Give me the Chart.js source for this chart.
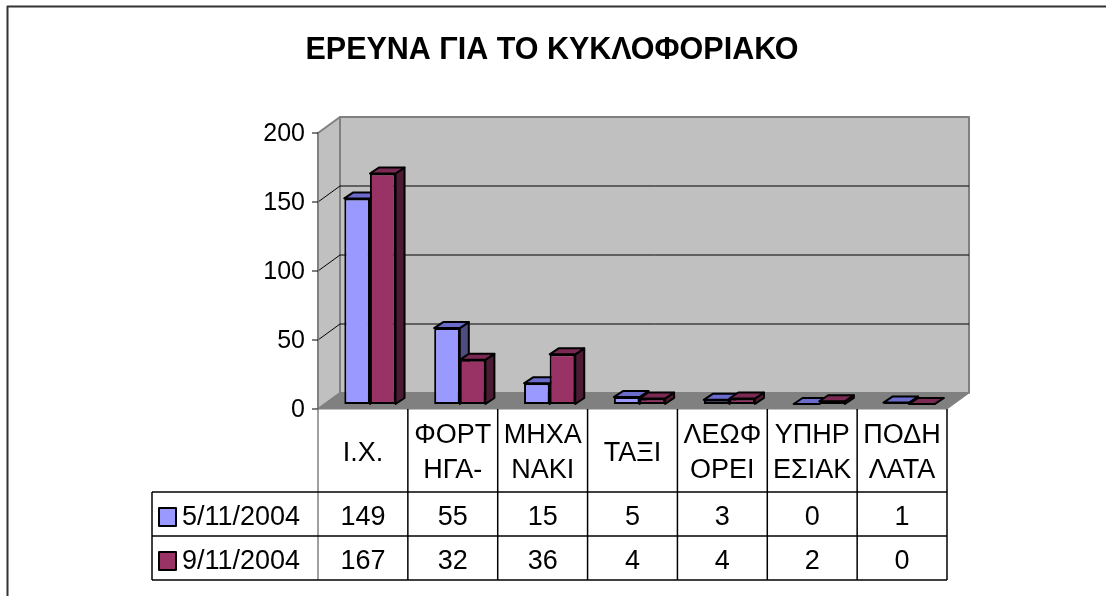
<!DOCTYPE html>
<html>
<head>
<meta charset="utf-8">
<script src="https://cdn.jsdelivr.net/npm/chart.js@4.4.1/dist/chart.umd.min.js"></script>
<style>
    html, body { margin: 0; padding: 0; background: #fff; }
    canvas { display: block; }
</style>
</head>
<body>
<canvas id="chart" width="1106" height="596"></canvas>
<script>
const title = "ΕΡΕΥΝΑ ΓΙΑ ΤΟ ΚΥΚΛΟΦΟΡΙΑΚΟ",
    categories = [["Ι.Χ."], ["ΦΟΡΤ", "ΗΓΑ-"], ["ΜΗΧΑ", "ΝΑΚΙ"], ["ΤΑΞΙ"], ["ΛΕΩΦ", "ΟΡΕΙ"], ["ΥΠΗΡ", "ΕΣΙΑΚ"], ["ΠΟΔΗ", "ΛΑΤΑ"]],
    seriesNames = ["5/11/2004", "9/11/2004"],
    day1 = [149, 55, 15, 5, 3, 0, 1],
    day2 = [167, 32, 36, 4, 4, 2, 0],
    yTicks = [0, 50, 100, 150, 200];

const FONT = '"Liberation Sans", Arial, sans-serif',
    colors = [
        { front: "#9999ff", top: "#6b6bcc", side: "#4d4d80" },
        { front: "#993366", top: "#7a2952", side: "#4d1a33" }
    ],
    FRONT = { x: -7, y: 5 },   // front plane relative to the bars
    BACK = { x: 15, y: -11 },  // back wall relative to the bars
    DEPTH = { x: 9, y: -6 };   // depth of a bar

function poly(ctx, pts, fill, stroke, lw) {
    ctx.beginPath();
    pts.forEach((p, i) => i ? ctx.lineTo(p[0], p[1]) : ctx.moveTo(p[0], p[1]));
    ctx.closePath();
    if (fill) { ctx.fillStyle = fill; ctx.fill(); }
    if (stroke) { ctx.strokeStyle = stroke; ctx.lineWidth = lw || 1; ctx.lineJoin = "round"; ctx.stroke(); }
}

function line(ctx, x1, y1, x2, y2, color, lw) {
    ctx.beginPath();
    ctx.moveTo(x1, y1);
    ctx.lineTo(x2, y2);
    ctx.strokeStyle = color;
    ctx.lineWidth = lw || 1;
    ctx.stroke();
}

const scene = {
    id: "scene",
    beforeDatasetsDraw(c) {
        const ctx = c.ctx, a = c.chartArea, ys = c.scales.y;
        const y0 = ys.getPixelForValue(0), yMax = ys.getPixelForValue(yTicks[yTicks.length - 1]);
        const fl = a.left + FRONT.x, fr = a.right + FRONT.x,
            bl = a.left + BACK.x, br = a.right + BACK.x;
        ctx.save();

        // back wall, side wall, floor
        poly(ctx, [[bl, yMax + BACK.y], [br, yMax + BACK.y], [br, y0 + BACK.y], [bl, y0 + BACK.y]], "#c0c0c0", "#808080", 2);
        poly(ctx, [[fl, y0 + FRONT.y], [fl, yMax + FRONT.y], [bl, yMax + BACK.y], [bl, y0 + BACK.y]], "#c0c0c0", "#808080", 2);
        poly(ctx, [[fl, y0 + FRONT.y], [fr, y0 + FRONT.y], [br, y0 + BACK.y], [bl, y0 + BACK.y]], "#808080", "#808080", 1);

        // gridlines
        yTicks.slice(1, -1).forEach(v => {
            const y = ys.getPixelForValue(v);
            line(ctx, bl, y + BACK.y, br, y + BACK.y, "#000", 1);
            line(ctx, fl, y + FRONT.y, bl, y + BACK.y, "#000", 1);
        });

        // value axis with ticks and labels
        line(ctx, fl, yMax + FRONT.y, fl, y0 + FRONT.y, "#808080", 2);
        ctx.font = "25px " + FONT;
        ctx.fillStyle = "#000";
        ctx.textAlign = "right";
        ctx.textBaseline = "alphabetic";
        yTicks.forEach(v => {
            const y = ys.getPixelForValue(v) + FRONT.y;
            line(ctx, fl - 6, y, fl, y, "#000", 1);
            ctx.fillText(String(v), fl - 13, y + 8);
        });

        // top and side faces of the bars
        const metas = [c.getDatasetMeta(0), c.getDatasetMeta(1)];
        categories.forEach((_, i) => metas.forEach((m, d) => {
            const bar = m.data[i],
                l = bar.x - bar.width / 2, r = bar.x + bar.width / 2,
                t = bar.y, b = bar.base;
            poly(ctx, [[r, t], [r + DEPTH.x, t + DEPTH.y], [r + DEPTH.x, b + DEPTH.y], [r, b]], colors[d].side, "#000", 2);
            poly(ctx, [[l, t], [r, t], [r + DEPTH.x, t + DEPTH.y], [l + DEPTH.x, t + DEPTH.y]], colors[d].top, "#000", 2);
        }));
        ctx.restore();
    },
    afterDraw(c) {
        const ctx = c.ctx, a = c.chartArea, xs = c.scales.x, ys = c.scales.y;
        const top = ys.getPixelForValue(0) + FRONT.y,
            headH = 83, rowH = 44,
            legendLeft = 152,
            step = (a.right - a.left) / categories.length,
            edges = categories.map((_, i) => xs.getPixelForValue(i) - step / 2 + FRONT.x);
        edges.push(a.right + FRONT.x);
        const right = edges[edges.length - 1], bottom = top + headH + rowH * 2;
        ctx.save();

        // table grid
        edges.forEach((x, i) => line(ctx, x, top, x, bottom, i ? "#000" : "#808080", 1.5));
        line(ctx, legendLeft, top + headH, legendLeft, bottom, "#000", 1.5);
        [1, 2].forEach(k => line(ctx, legendLeft, top + headH + rowH * (k - 1), right, top + headH + rowH * (k - 1), "#000", 1.5));
        line(ctx, legendLeft, bottom, right, bottom, "#000", 1.5);

        ctx.font = "27px " + FONT;
        ctx.fillStyle = "#000";
        ctx.textBaseline = "alphabetic";
        ctx.textAlign = "center";
        const headMid = top + headH / 2;
        categories.forEach((lines, i) => {
            const x = xs.getPixelForValue(i) + FRONT.x;
            lines.forEach((s, k) => ctx.fillText(s, x, headMid + 10 + (k - (lines.length - 1) / 2) * 35));
        });

        [day1, day2].forEach((vals, d) => {
            const mid = top + headH + rowH * d + rowH / 2;
            ctx.textAlign = "center";
            ctx.fillStyle = "#000";
            vals.forEach((v, i) => ctx.fillText(String(v), xs.getPixelForValue(i) + FRONT.x, mid + 11));
            poly(ctx, [[159, mid - 6], [176, mid - 6], [176, mid + 12], [159, mid + 12]], colors[d].front, "#000", 2);
            ctx.fillStyle = "#000";
            ctx.textAlign = "left";
            ctx.fillText(seriesNames[d], 182, mid + 11);
        });

        // title
        ctx.font = "bold 30.5px " + FONT;
        ctx.textAlign = "center";
        ctx.fillText(title, 552, 59);

        // outer frame
        ctx.strokeStyle = "#333";
        ctx.lineWidth = 2;
        ctx.strokeRect(7.5, 6.5, 1300, 800);
        ctx.restore();
    }
};

new Chart(document.getElementById("chart"), {
    type: "bar",
    data: {
        labels: categories,
        datasets: seriesNames.map((name, d) => ({
            label: name,
            data: d ? day2 : day1,
            backgroundColor: colors[d].front,
            borderColor: "#000",
            borderWidth: 2,
            borderSkipped: false,
            barPercentage: 1,
            categoryPercentage: 0.57
        }))
    },
    options: {
        responsive: false,
        animation: false,
        layout: { padding: { left: 325, right: 152, top: 128, bottom: 192 } },
        scales: {
            x: { display: false },
            y: { display: false, min: 0, max: 200 }
        },
        plugins: {
            legend: { display: false },
            title: { display: false },
            tooltip: { enabled: false }
        }
    },
    plugins: [scene]
});
</script>
</body>
</html>
